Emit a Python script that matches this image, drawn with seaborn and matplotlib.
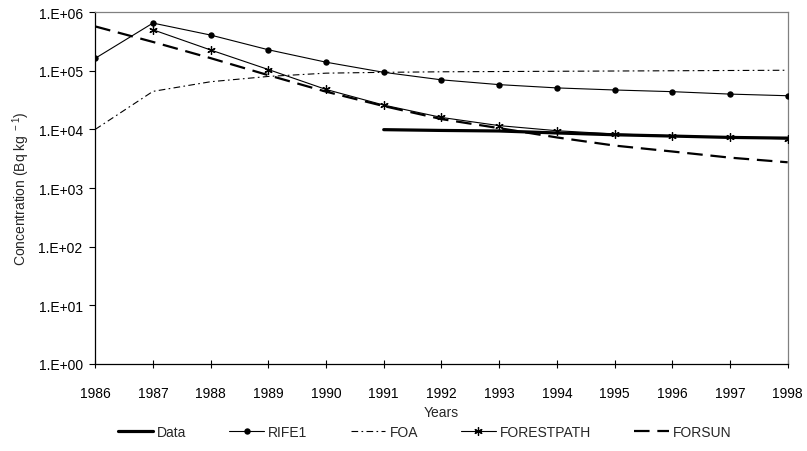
import matplotlib
matplotlib.use("Agg")
import matplotlib.pyplot as plt
import seaborn as sns
import pandas as pd

# Years covered by the models and by the measurements
years = list(range(1986, 1999))
data_years = list(range(1991, 1999))

# Concentrations (Bq/kg)
data_vals = [9.9e3, 9.6e3, 9.4e3, 8.7e3, 8.1e3, 7.7e3, 7.3e3, 7.1e3]
rife1 = [1.63e5, 6.5e5, 4.06e5, 2.28e5, 1.40e5, 9.4e4, 7.0e4, 5.8e4,
         5.1e4, 4.7e4, 4.4e4, 4.0e4, 3.75e4]
foa = [1.0e4, 4.45e4, 6.5e4, 8.0e4, 9.1e4, 9.4e4, 9.6e4, 9.7e4,
       9.8e4, 9.9e4, 1.0e5, 1.01e5, 1.02e5]
forestpath_years = list(range(1987, 1999))
forestpath = [5.0e5, 2.26e5, 1.05e5, 4.8e4, 2.6e4, 1.6e4, 1.16e4,
              9.5e3, 8.35e3, 7.8e3, 7.3e3, 6.9e3]
forsun = [5.7e5, 3.1e5, 1.64e5, 8.4e4, 4.4e4, 2.5e4, 1.5e4, 1.05e4,
          7.3e3, 5.3e3, 4.2e3, 3.3e3, 2.75e3]

ytick_vals = [1e0, 1e1, 1e2, 1e3, 1e4, 1e5, 1e6]
ytick_labels = ["1.E+00", "1.E+01", "1.E+02", "1.E+03", "1.E+04", "1.E+05", "1.E+06"]

sns.set_style("white")
plt.rcParams["font.family"] = ["Liberation Sans", "DejaVu Sans"]
plt.rcParams["mathtext.fontset"] = "custom"
plt.rcParams["mathtext.rm"] = "Liberation Sans"
plt.rcParams["mathtext.default"] = "regular"

FS = 10

fig = plt.figure(figsize=(8.07, 4.52), dpi=100)
ax = fig.add_axes([0.118, 0.1925, 0.858, 0.7785])

fp_df = pd.DataFrame({"year": forestpath_years, "val": forestpath})

sns.lineplot(x=data_years, y=data_vals, ax=ax, color="black", lw=2.3,
             label="Data", zorder=5)
sns.lineplot(x=years, y=rife1, ax=ax, color="black", lw=0.8, marker="o",
             markersize=4.6, markeredgewidth=0, label="RIFE1", zorder=4)
sns.lineplot(x=years, y=foa, ax=ax, color="black", lw=0.8,
             label="FOA", zorder=3)
ax.lines[-1].set_dashes([6, 3, 1.5, 3])
sns.lineplot(data=fp_df, x="year", y="val", ax=ax, color="black", lw=0.8,
             marker=(6, 2, 0), markersize=6, markeredgewidth=0.9,
             markeredgecolor="black", label="FORESTPATH", zorder=4)
sns.lineplot(x=years, y=forsun, ax=ax, color="black", lw=1.6,
             label="FORSUN", zorder=3)
ax.lines[-1].set_dashes([7, 3.5])

ax.set_yscale("log")
ax.set_ylim(1, 1e6)
ax.set_xlim(1986, 1998)
ax.set_yticks(ytick_vals)
ax.set_yticklabels(ytick_labels)
ax.yaxis.set_minor_locator(matplotlib.ticker.NullLocator())
ax.set_xticks(years)
ax.set_xticklabels([str(y) for y in years])

ax.tick_params(axis="y", direction="out", length=4.5, width=0.8, colors="black",
               labelsize=FS, pad=4.5, left=True)
ax.tick_params(axis="x", direction="inout", length=6, width=0.8, colors="black",
               labelsize=FS, pad=12.5, bottom=True)

for side in ["left", "bottom"]:
    ax.spines[side].set_color("black")
    ax.spines[side].set_linewidth(0.9)
for side in ["top", "right"]:
    ax.spines[side].set_color("#808080")
    ax.spines[side].set_linewidth(0.9)

ax.set_xlabel("Years", fontsize=FS, labelpad=4)
ax.set_ylabel(r"Concentration (Bq kg$^{\ -1}$)", fontsize=FS, labelpad=5)

handles, labels = ax.get_legend_handles_labels()
ax.legend(handles, labels, loc="center left", bbox_to_anchor=(0.033, -0.193),
          ncol=5, frameon=False, fontsize=FS, handlelength=2.5,
          handletextpad=0.3, columnspacing=3.1, borderaxespad=0, borderpad=0)

fig.savefig("out.png", dpi=100)
